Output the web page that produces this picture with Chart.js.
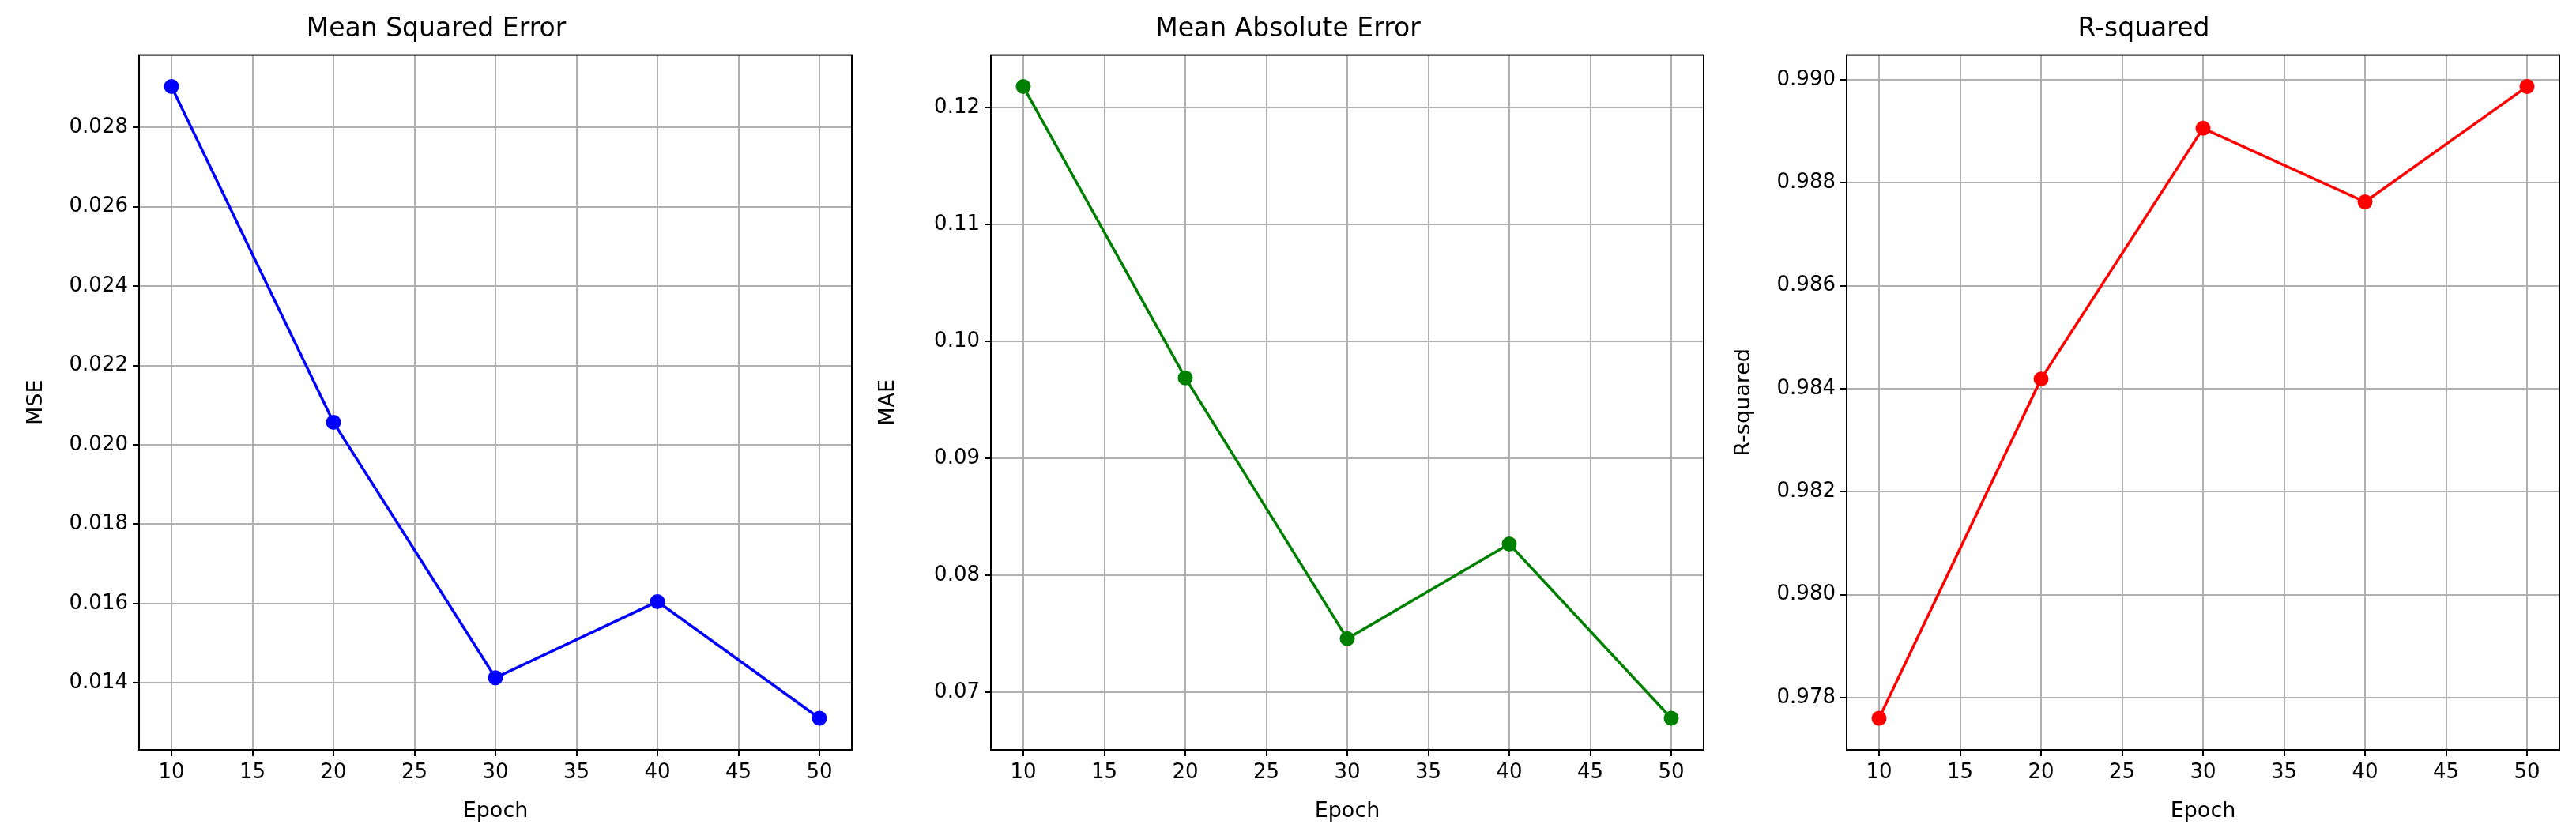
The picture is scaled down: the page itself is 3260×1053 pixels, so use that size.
<!DOCTYPE html>
<html>
<head>
<meta charset="utf-8">
<script src="https://cdn.jsdelivr.net/npm/chart.js@4/dist/chart.umd.min.js"></script>
<style>
  body { margin: 0; background: #fff; width: 3260px; height: 1053px; position: relative; overflow: hidden; }
  .panel { position: absolute; top: 0; height: 1053px; }
</style>
</head>
<body>
<div class="panel" id="p0"><canvas id="c0"></canvas></div>
<div class="panel" id="p1"><canvas id="c1"></canvas></div>
<div class="panel" id="p2"><canvas id="c2"></canvas></div>
<script>
// data
const epochs = [10, 20, 30, 40, 50];
const mseValues = [0.02903, 0.02057, 0.01413, 0.01605, 0.01311];
const maeValues = [0.1218, 0.0969, 0.0746, 0.0827, 0.0678];
const r2Values = [0.9776, 0.98419, 0.98906, 0.98763, 0.98987];
const titles = ['Mean Squared Error', 'Mean Absolute Error', 'R-squared'];
const yLabels = ['MSE', 'MAE', 'R-squared'];
const colors = ['#0000ff', '#008000', '#ff0000'];
const yStep = [0.002, 0.01, 0.002];
const yDecimals = [3, 2, 3];

// layout (px)
const plotLefts = [176, 1254, 2337];
const plotW = 902;
const yAxisW = 150;
const padRight = 12;

Chart.defaults.font.family = 'DejaVu Sans';
Chart.defaults.color = '#000';

const makeChart = (i, values) => {
	const lo = Math.min(...values), hi = Math.max(...values);
	const m = (hi - lo) * 0.05;

	const panel = document.getElementById('p' + i);
	panel.style.left = (plotLefts[i] - yAxisW) + 'px';
	panel.style.width = (yAxisW + plotW + padRight) + 'px';

	new Chart(document.getElementById('c' + i), {
		type: 'line',
		data: {
			datasets: [{
				data: epochs.map((e, k) => ({ x: e, y: values[k] })),
				borderColor: colors[i],
				backgroundColor: colors[i],
				borderWidth: 3.5,
				pointRadius: 9.5,
				pointBorderWidth: 0,
				tension: 0
			}]
		},
		options: {
			responsive: true,
			maintainAspectRatio: false,
			animation: false,
			devicePixelRatio: 1,
			layout: { padding: { right: padRight, top: 0, bottom: 0, left: 0 } },
			plugins: {
				legend: { display: false },
				tooltip: { enabled: false },
				title: {
					display: true,
					text: titles[i],
					font: { size: 33, weight: 'normal' },
					padding: { top: 18, bottom: 12 }
				}
			},
			scales: {
				x: {
					type: 'linear',
					min: 8, max: 52,
					afterBuildTicks: ax => { ax.ticks = [10, 15, 20, 25, 30, 35, 40, 45, 50].map(v => ({ value: v })); },
					afterFit: ax => { ax.height = 104; },
					grid: { color: '#b0b0b0', lineWidth: 2, tickLength: 8, tickColor: '#000' },
					border: { color: '#000', width: 2 },
					ticks: { font: { size: 26 }, padding: 6, maxRotation: 0 },
					title: { display: true, text: 'Epoch', font: { size: 27 }, padding: { top: 2, bottom: 10 } }
				},
				y: {
					min: lo - m, max: hi + m,
					afterBuildTicks: ax => {
						const s = yStep[i];
						const t = [];
						for (let v = Math.ceil((lo - m) / s) * s; v <= hi + m; v += s) t.push({ value: v });
						ax.ticks = t;
					},
					afterFit: ax => { ax.width = yAxisW; },
					grid: { color: '#b0b0b0', lineWidth: 2, tickLength: 8, tickColor: '#000' },
					border: { color: '#000', width: 2 },
					ticks: { font: { size: 26 }, padding: 6, callback: v => v.toFixed(yDecimals[i]) },
					title: { display: true, text: yLabels[i], font: { size: 27 }, padding: { bottom: 4 } }
				}
			}
		},
		plugins: [{
			// close the box on top and right like matplotlib
			id: 'frame',
			afterDraw: c => {
				const a = c.chartArea, g = c.ctx;
				g.save();
				g.strokeStyle = '#000';
				g.lineWidth = 2;
				g.strokeRect(a.left, a.top, a.right - a.left, a.bottom - a.top);
				g.restore();
			}
		}]
	});
};

makeChart(0, mseValues);
makeChart(1, maeValues);
makeChart(2, r2Values);
</script>
</body>
</html>
